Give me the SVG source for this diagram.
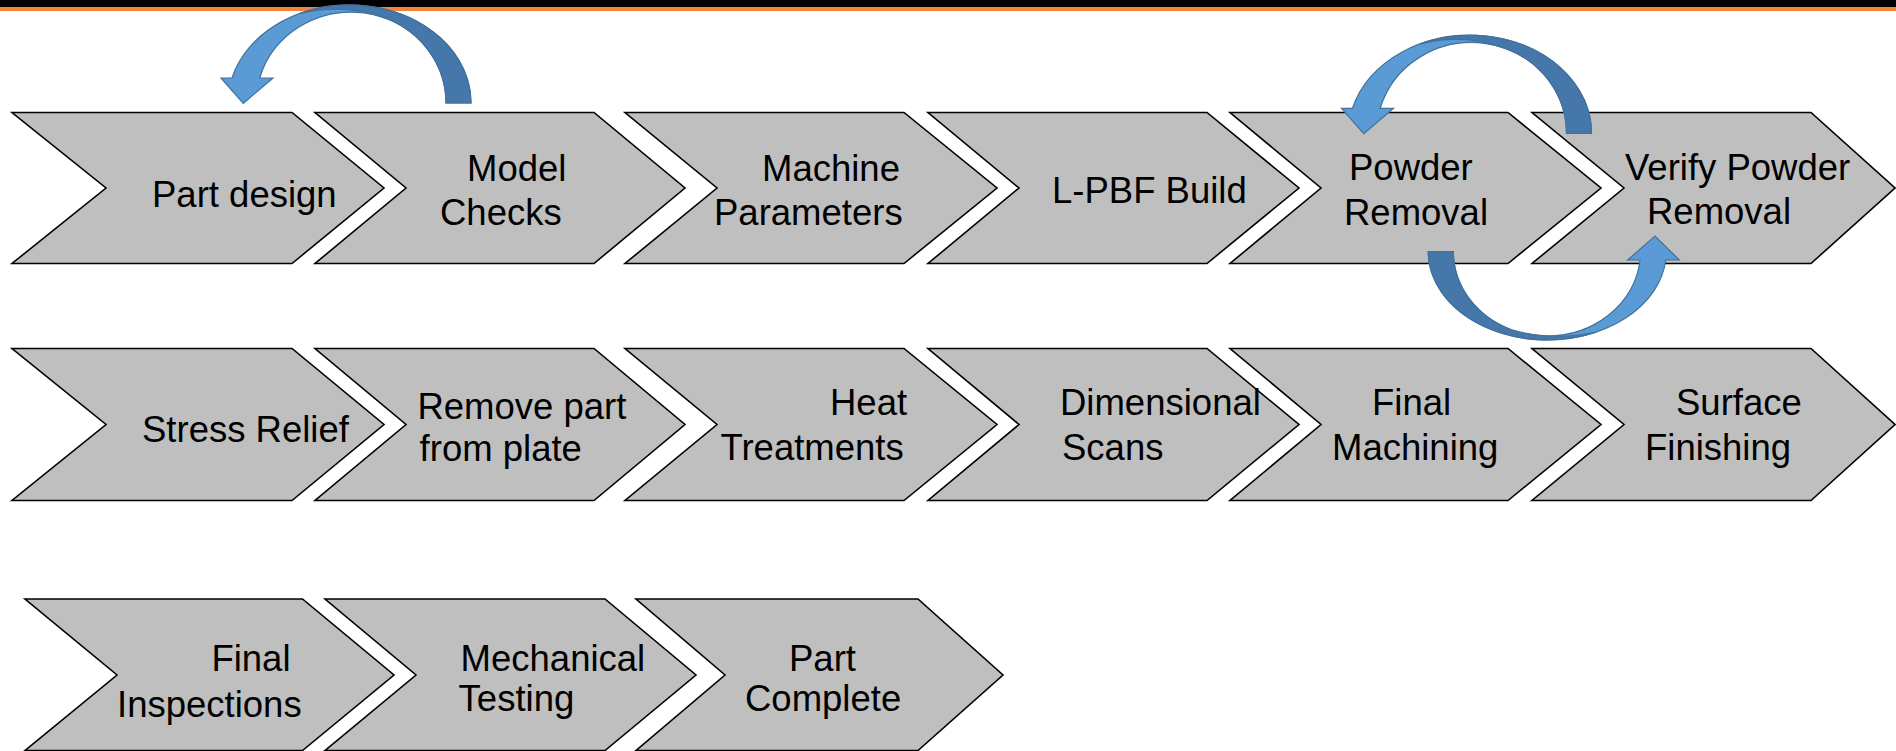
<svg xmlns="http://www.w3.org/2000/svg" width="1896" height="751" viewBox="0 0 1896 751">
<style>
.chev{fill:#BFBFBF;stroke:#000;stroke-width:1.6;stroke-linejoin:miter}
.t{font-family:"Liberation Sans",Arial,sans-serif;font-size:36.5px;fill:#000}
.al{fill:#5B9BD5;stroke:#41719C;stroke-width:1.2}
.ad{fill:#4677AA;stroke:#41719C;stroke-width:1.2}
</style>
<defs>
<g id="carrow">
<path class="al" d="M471,103 A121.5,98 0 0 0 232,78 L221,78 L243.3,103.3 L273,78 L259.7,78 A95,91 0 0 1 446,103 Z"/>
<path class="ad" d="M471,103 A121.5,98 0 0 0 300,13.5 Q345,2.5 387,18.8 A95,91 0 0 1 446,103 Z"/>
</g>
</defs>
<rect x="0" y="0" width="1896" height="7" fill="#000"/>
<rect x="0" y="7" width="1896" height="4" fill="#F5843A"/>

<g id="n1"><path class="chev" d="M12,112.5 L292,112.5 L384,188 L292,263.5 L12,263.5 L106,188 Z"/><text class="t" x="152" y="207">Part design</text></g>
<g id="n2"><path class="chev" d="M315,112.5 L594,112.5 L685,188 L594,263.5 L315,263.5 L406,188 Z"/><text class="t" x="467" y="181">Model</text><text class="t" x="440" y="225">Checks</text></g>
<g id="n3"><path class="chev" d="M625,112.5 L904,112.5 L997,188 L904,263.5 L625,263.5 L717,188 Z"/><text class="t" x="762" y="181">Machine</text><text class="t" x="714" y="225">Parameters</text></g>
<g id="n4"><path class="chev" d="M928,112.5 L1207,112.5 L1299,188 L1207,263.5 L928,263.5 L1019,188 Z"/><text class="t" x="1052" y="203">L-PBF Build</text></g>
<g id="n5"><path class="chev" d="M1230,112.5 L1508,112.5 L1601,188 L1508,263.5 L1230,263.5 L1321,188 Z"/><text class="t" x="1349" y="180">Powder</text><text class="t" x="1344" y="225">Removal</text></g>
<g id="n6"><path class="chev" d="M1532,112.5 L1811,112.5 L1895,188 L1811,263.5 L1532,263.5 L1624,188 Z"/><text class="t" x="1625" y="180">Verify Powder</text><text class="t" x="1647" y="224">Removal</text></g>

<g id="n7"><path class="chev" d="M12,348.5 L292,348.5 L384,424.5 L292,500.5 L12,500.5 L106,424.5 Z"/><text class="t" x="142" y="441.7">Stress Relief</text></g>
<g id="n8"><path class="chev" d="M315,348.5 L594,348.5 L685,424.5 L594,500.5 L315,500.5 L406,424.5 Z"/><text class="t" x="417.4" y="419">Remove part</text><text class="t" x="419.6" y="461">from plate</text></g>
<g id="n9"><path class="chev" d="M625,348.5 L904,348.5 L997,424.5 L904,500.5 L625,500.5 L717,424.5 Z"/><text class="t" x="830" y="415">Heat</text><text class="t" x="720.5" y="460">Treatments</text></g>
<g id="n10"><path class="chev" d="M928,348.5 L1207,348.5 L1299,424.5 L1207,500.5 L928,500.5 L1019,424.5 Z"/><text class="t" x="1060" y="415">Dimensional</text><text class="t" x="1062" y="460">Scans</text></g>
<g id="n11"><path class="chev" d="M1230,348.5 L1508,348.5 L1601,424.5 L1508,500.5 L1230,500.5 L1321,424.5 Z"/><text class="t" x="1372" y="415">Final</text><text class="t" x="1332" y="460">Machining</text></g>
<g id="n12"><path class="chev" d="M1532,348.5 L1811,348.5 L1895,424.5 L1811,500.5 L1532,500.5 L1624,424.5 Z"/><text class="t" x="1676" y="415">Surface</text><text class="t" x="1645" y="460">Finishing</text></g>

<g id="n13"><path class="chev" d="M25,599 L302.5,599 L394,675 L302.5,750.5 L25,750.5 L117,675 Z"/><text class="t" x="211.4" y="670.7">Final</text><text class="t" x="117" y="717.3">Inspections</text></g>
<g id="n14"><path class="chev" d="M325,599 L605,599 L696,675 L605,750.5 L325,750.5 L416,675 Z"/><text class="t" x="460.6" y="670.7">Mechanical</text><text class="t" x="458.6" y="710.7">Testing</text></g>
<g id="n15"><path class="chev" d="M636,599 L918,599 L1003,675 L918,750.5 L636,750.5 L725,675 Z"/><text class="t" x="789" y="670.7">Part</text><text class="t" x="745" y="711">Complete</text></g>

<g id="connectors">
<use href="#carrow"/>
<use href="#carrow" transform="translate(1120.5,30.3)"/>
<g id="arrowC">
<path class="al" d="M1428.3,251.7 A119,88.3 0 0 0 1665.77,260 L1679.3,260 L1655,236 L1627.7,260 L1640.05,260 A93.6,84.3 0 0 1 1453.3,251.7 Z"/>
<path class="ad" d="M1428.3,251.7 A119,88.3 0 0 0 1596.8,332 Q1550,341.5 1510.9,329.5 A93.6,84.3 0 0 1 1453.3,251.7 Z"/>
</g>
</g>
</svg>
